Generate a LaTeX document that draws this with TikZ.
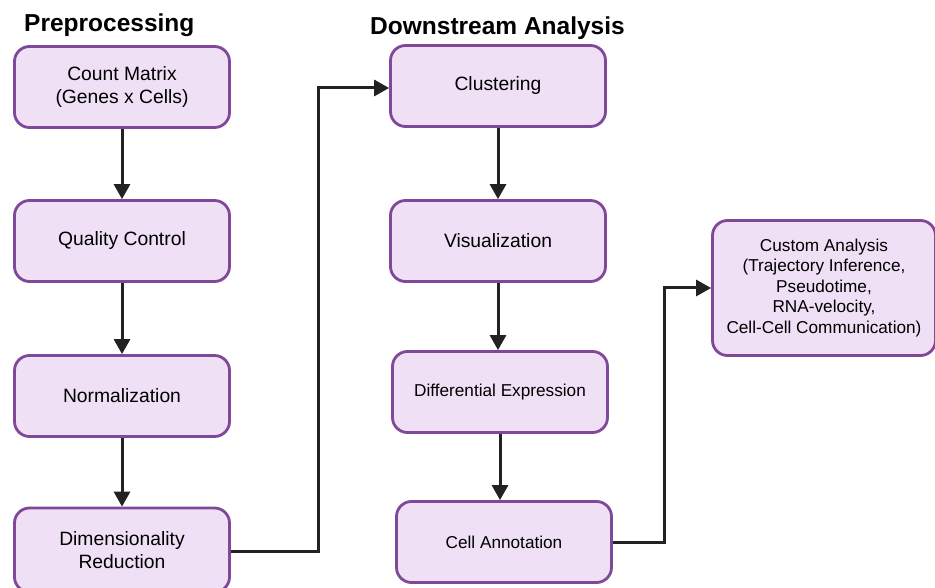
\documentclass[tikz,border=0pt]{standalone}
\usepackage{fontspec}
\setmainfont{Liberation Sans}
\usetikzlibrary{arrows.meta}
\definecolor{boxfill}{RGB}{240,224,246}
\definecolor{boxline}{RGB}{128,72,152}
\definecolor{arrowc}{RGB}{34,34,34}
\begin{document}
\begin{tikzpicture}[x=1pt,y=-1pt,
  stepbox/.style={draw=boxline,fill=boxfill,line width=2.8pt,rounded corners=15pt,
    minimum width=215pt,minimum height=81pt,align=center,inner sep=0pt,
    font=\fontsize{19.3}{23}\selectfont},
  smallbox/.style={stepbox,font=\fontsize{17.2}{20.5}\selectfont},
  title/.style={font=\fontsize{24.5}{28}\selectfont\bfseries,inner sep=0pt},
  conn/.style={draw=arrowc,line width=3pt,-{Triangle[length=15pt,width=16pt]}}]
\useasboundingbox (0,0) rectangle (935,588);
\node[title,anchor=west] (t1) at (24,25) {Preprocessing};
\node[title,anchor=west] (t2) at (370,28) {Downstream Analysis};

\node[stepbox] (cm) at (122,87) {Count Matrix\\(Genes x Cells)};
\node[stepbox] (qc) at (122,241) {Quality Control};
\node[stepbox] (no) at (122,396) {Normalization};
\node[stepbox,minimum height=84pt] (dr) at (122,550) {Dimensionality\\Reduction};

\node[stepbox] (cl) at (498,86) {Clustering};
\node[stepbox] (vi) at (498,241) {Visualization};
\node[smallbox] (de) at (500,392) {Differential Expression};
\node[smallbox] (ca) at (504,542) {Cell Annotation};
\node[smallbox,minimum width=223pt,minimum height=135pt] (cu) at (824,288)
  {Custom Analysis\\(Trajectory Inference,\\Pseudotime,\\RNA-velocity,\\Cell-Cell Communication)};

\draw[conn] (cm.south) -- (qc.north);
\draw[conn] (qc.south) -- (no.north);
\draw[conn] (no.south) -- (dr.north);
\draw[conn] (cl.south) -- (cl.south |- vi.north);
\draw[conn] (vi.south) -- (vi.south |- de.north);
\draw[conn] (de.south) -- (de.south |- ca.north);

\coordinate (k1) at (318,551);
\coordinate (k2) at (318,88);
\draw[conn] (dr.east |- k1) -- (k1) -- (k2) -- (cl.west |- k2);
\coordinate (k3) at (664,542);
\coordinate (k4) at (664,288);
\draw[conn] (ca.east) -- (k3) -- (k4) -- (cu.west);
\end{tikzpicture}
\end{document}
